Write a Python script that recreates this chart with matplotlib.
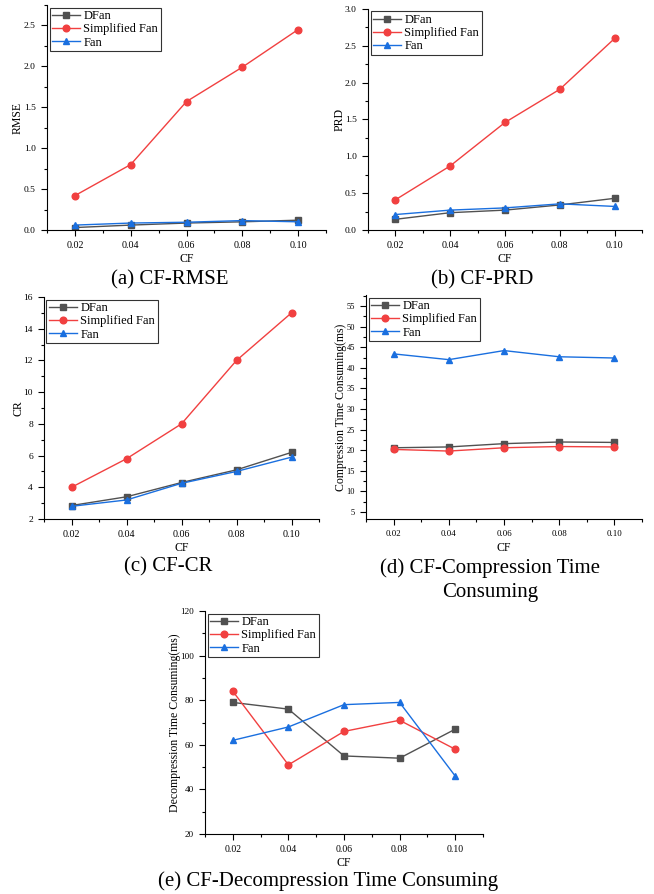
import numpy as np
import matplotlib
matplotlib.use("Agg")
import matplotlib.pyplot as plt
from matplotlib.ticker import MultipleLocator, FormatStrFormatter

plt.rcParams['font.family'] = ['Liberation Serif', 'DejaVu Serif']

cf = [0.02, 0.04, 0.06, 0.08, 0.10]
series_names = ['DFan', 'Simplified Fan', 'Fan']

rmse_dfan = [0.03, 0.06, 0.085, 0.10, 0.12]
rmse_simp = [0.42, 0.80, 1.57, 1.99, 2.45]
rmse_fan = [0.06, 0.085, 0.095, 0.115, 0.10]

prd_dfan = [0.145, 0.235, 0.27, 0.34, 0.43]
prd_simp = [0.41, 0.87, 1.46, 1.91, 2.60]
prd_fan = [0.21, 0.27, 0.30, 0.355, 0.32]

cr_dfan = [2.85, 3.4, 4.3, 5.1, 6.2]
cr_simp = [4.0, 5.8, 8.0, 12.0, 15.0]
cr_fan = [2.8, 3.2, 4.25, 5.0, 5.9]

comp_dfan = [20.6, 20.8, 21.6, 22.0, 21.9]
comp_simp = [20.2, 19.8, 20.6, 20.9, 20.8]
comp_fan = [43.4, 42.0, 44.2, 42.7, 42.4]

decomp_dfan = [79, 76, 55, 54, 67]
decomp_simp = [84, 51, 66, 71, 58]
decomp_fan = [62, 68, 78, 79, 46]

colors = ['#515151', '#F14040', '#1A6FDF']
markers = ['s', 'o', '^']

W, H = 654, 894
fig = plt.figure(figsize=(W / 100, H / 100), dpi=100)

# (left, right, top, bottom) in pixels, y-data, label, ylim, major, minor, ylabel offset, tick size
panels = [
    ((47, 326, 5, 230), [rmse_dfan, rmse_simp, rmse_fan], 'RMSE', (0, 2.75), 0.5, 0.25, 29, 6.8),
    ((368, 642, 9, 230), [prd_dfan, prd_simp, prd_fan], 'PRD', (0, 3.0), 0.5, 0.25, 28, 6.8),
    ((44, 319, 297, 519), [cr_dfan, cr_simp, cr_fan], 'CR', (2, 16), 2, 1, 25, 6.8),
    ((366, 642, 295, 519), [comp_dfan, comp_simp, comp_fan], 'Compression Time Consuming(ms)', (3.3, 57.7), 5, 2.5, 25, 6.0),
    ((205, 483, 611, 834), [decomp_dfan, decomp_simp, decomp_fan], 'Decompression Time Consuming(ms)', (20, 120), 20, 10, 30, 6.6),
]

for (l, r, t, b), data, ylab, ylim, major, minor, yoff, tsize in panels:
    ax = fig.add_axes([l / W, 1 - b / H, (r - l) / W, (b - t) / H])
    for vals, name, c, m in zip(data, series_names, colors, markers):
        ax.plot(cf, vals, color=c, marker=m, markersize=4.8, linewidth=1.0, label=name)
    ax.set_xlim(0.01, 0.11)
    ax.set_ylim(*ylim)
    ax.set_xticks(cf)
    ax.set_xticklabels(['0.02', '0.04', '0.06', '0.08', '0.10'])
    ax.xaxis.set_minor_locator(MultipleLocator(0.01))
    ax.yaxis.set_major_locator(MultipleLocator(major))
    ax.yaxis.set_minor_locator(MultipleLocator(minor))
    if ylim[1] < 10:
        ax.yaxis.set_major_formatter(FormatStrFormatter('%.1f'))
    ax.spines['top'].set_visible(False)
    ax.spines['right'].set_visible(False)
    ax.tick_params(which='major', direction='out', length=4, width=0.8, labelsize=tsize, pad=4)
    ax.tick_params(axis='x', which='major', labelsize=tsize + 0.4)
    ax.tick_params(which='minor', direction='out', length=2, width=0.8)
    ax.set_xlabel('CF', fontsize=8.5, va='center')
    ax.xaxis.set_label_coords(0.5, -29 / (b - t))
    ax.set_ylabel(ylab, fontsize=8.5, va='center')
    ax.yaxis.set_label_coords(-yoff / (r - l), 0.5)
    leg = ax.legend(loc='upper left', fontsize=9, frameon=True, fancybox=False,
                    edgecolor='black', borderpad=0.2, labelspacing=0.1,
                    handlelength=2.2, handletextpad=0.3, borderaxespad=0.2)
    leg.get_frame().set_linewidth(0.8)

fig.text(170 / W, 1 - 280 / H, '(a) CF-RMSE', ha='center', va='center', fontsize=15)
fig.text(482 / W, 1 - 280 / H, '(b) CF-PRD', ha='center', va='center', fontsize=15)
fig.text(168 / W, 1 - 567 / H, '(c) CF-CR', ha='center', va='center', fontsize=15)
fig.text(490 / W, 1 - 568 / H, '(d) CF-Compression Time', ha='center', va='center', fontsize=15)
fig.text(490 / W, 1 - 593 / H, 'Consuming', ha='center', va='center', fontsize=15)
fig.text(328 / W, 1 - 881 / H, '(e) CF-Decompression Time Consuming', ha='center', va='center', fontsize=15)

fig.savefig('out.png', dpi=100)
